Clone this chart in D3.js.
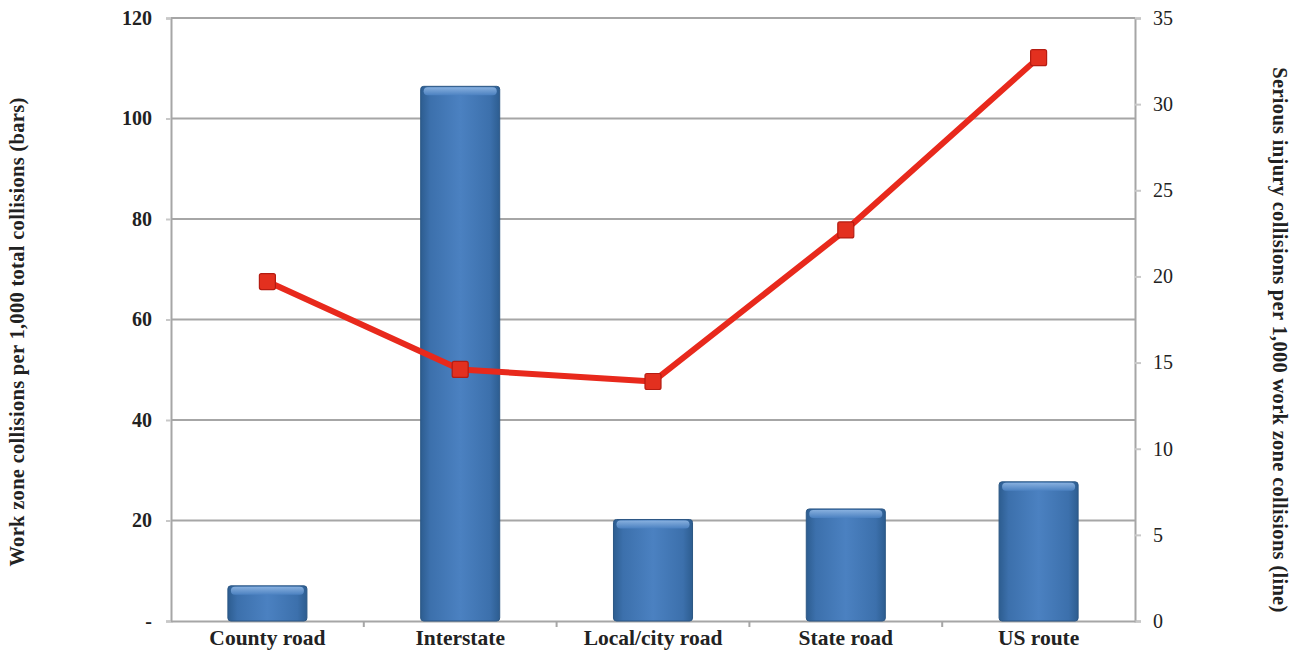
<!DOCTYPE html>
<html><head><meta charset="utf-8">
<script src="https://cdn.jsdelivr.net/npm/d3@7"></script>
<style>body{margin:0;background:#fff}svg{display:block}</style>
</head><body>
<script>
const categories = ["County road","Interstate","Local/city road","State road","US route"];
const barValues = [7.0, 106.4, 20.2, 22.3, 27.7];
const lineValues = [19.7, 14.6, 13.9, 22.7, 32.7];
const leftTicks = [0,20,40,60,80,100,120];
const leftTickLabels = ["-","20","40","60","80","100","120"];
const rightTicks = [0,5,10,15,20,25,30,35];

const W=1298,H=652;
const m={l:171,r:163,t:18,b:31};
const svg=d3.select("body").append("svg").attr("width",W).attr("height",H);
const defs=svg.append("defs");
const g1=defs.append("linearGradient").attr("id","bg").attr("x1","0").attr("x2","1").attr("y1","0").attr("y2","0");
[[0,"#2d5d90"],[0.12,"#3c70ac"],[0.5,"#4b81c1"],[0.88,"#3c70ac"],[1,"#2d5d90"]].forEach(s=>g1.append("stop").attr("offset",s[0]).attr("stop-color",s[1]));
const g2=defs.append("linearGradient").attr("id","tg").attr("x1","0").attr("x2","0").attr("y1","0").attr("y2","1");
[[0,"#8fb6e3"],[1,"#4c82c2"]].forEach(s=>g2.append("stop").attr("offset",s[0]).attr("stop-color",s[1]));

const x=d3.scaleBand().domain(categories).range([m.l,W-m.r]).paddingInner(0.59).paddingOuter(0.295);
const xb=d3.scaleBand().domain(categories).range([m.l,W-m.r]);
const yL=d3.scaleLinear().domain([0,120]).range([H-m.b,m.t]);
const yR=d3.scaleLinear().domain([0,35]).range([H-m.b,m.t]);

// gridlines
svg.append("g").selectAll("line").data(leftTicks.slice(1)).join("line")
 .attr("x1",m.l).attr("x2",W-m.r).attr("y1",d=>yL(d)).attr("y2",d=>yL(d))
 .attr("stroke","#a6a6a6").attr("stroke-width",2);

const font="'Liberation Serif','DejaVu Serif',serif";
// left axis
const la=svg.append("g").attr("transform",`translate(${m.l},0)`)
 .call(d3.axisLeft(yL).tickValues(leftTicks).tickFormat((d,i)=>leftTickLabels[i]).tickSize(5).tickPadding(14));
la.select(".domain").attr("stroke","#a6a6a6").attr("stroke-width",2);
la.selectAll(".tick line").attr("stroke","#c8c8c8").attr("stroke-width",2);
la.selectAll("text").attr("font-family",font).attr("font-weight","bold").attr("font-size",20).attr("fill","#222");
// right axis
const ra=svg.append("g").attr("transform",`translate(${W-m.r},0)`)
 .call(d3.axisRight(yR).tickValues(rightTicks).tickSize(6).tickPadding(12));
ra.select(".domain").attr("stroke","#a6a6a6").attr("stroke-width",2);
ra.selectAll(".tick line").attr("stroke","#c8c8c8").attr("stroke-width",2);
ra.selectAll("text").attr("font-family",font).attr("font-size",20).attr("fill","#222");
// bottom axis
const ba=svg.append("g").attr("transform",`translate(0,${H-m.b})`)
 .call(d3.axisBottom(xb).tickSize(0).tickPadding(9));
ba.select(".domain").attr("stroke","#a6a6a6").attr("stroke-width",2);
ba.selectAll("text").attr("font-family",font).attr("font-weight","bold").attr("font-size",21.5).attr("fill","#222").attr("dy","0.72em");
// category boundary ticks
svg.append("g").selectAll("line").data(categories.slice(1)).join("line")
 .attr("x1",d=>xb(d)).attr("x2",d=>xb(d)).attr("y1",H-m.b).attr("y2",H-m.b+6)
 .attr("stroke","#a6a6a6").attr("stroke-width",2);

// bars
const bars=svg.append("g").selectAll("g").data(categories).join("g");
bars.append("rect").attr("x",d=>x(d)).attr("width",x.bandwidth())
 .attr("y",(d,i)=>yL(barValues[i])).attr("height",(d,i)=>yL(0)-yL(barValues[i]))
 .attr("fill","url(#bg)").attr("rx",3).attr("stroke","#2c5784").attr("stroke-width",1);
bars.append("rect").attr("x",d=>x(d)+3).attr("width",x.bandwidth()-6)
 .attr("y",(d,i)=>yL(barValues[i])+1).attr("height",8)
 .attr("fill","url(#tg)").attr("rx",4).attr("opacity",0.9);

// line
const lineGen=d3.line().x((d,i)=>xb(categories[i])+xb.bandwidth()/2).y(d=>yR(d));
svg.append("path").datum(lineValues).attr("d",lineGen).attr("fill","none")
 .attr("stroke","#e8291c").attr("stroke-width",6).attr("stroke-linejoin","round");
svg.append("g").selectAll("rect").data(lineValues).join("rect")
 .attr("x",(d,i)=>xb(categories[i])+xb.bandwidth()/2-8).attr("y",d=>yR(d)-8)
 .attr("width",16).attr("height",16).attr("rx",2)
 .attr("fill","#e3301f").attr("stroke","#b51c12").attr("stroke-width",1.2);

// axis titles
svg.append("text").attr("transform",`translate(24,332) rotate(-90)`)
 .attr("text-anchor","middle").attr("font-family",font).attr("font-weight","bold").attr("font-size",20.5).attr("letter-spacing",0.3).attr("fill","#222")
 .text("Work zone collisions per 1,000 total collisions (bars)");
svg.append("text").attr("transform",`translate(1273,340) rotate(90)`)
 .attr("text-anchor","middle").attr("font-family",font).attr("font-weight","bold").attr("font-size",20.5).attr("letter-spacing",0.3).attr("fill","#222")
 .text("Serious injury collisions per 1,000 work zone collisions (line)");
</script>
</body></html>
